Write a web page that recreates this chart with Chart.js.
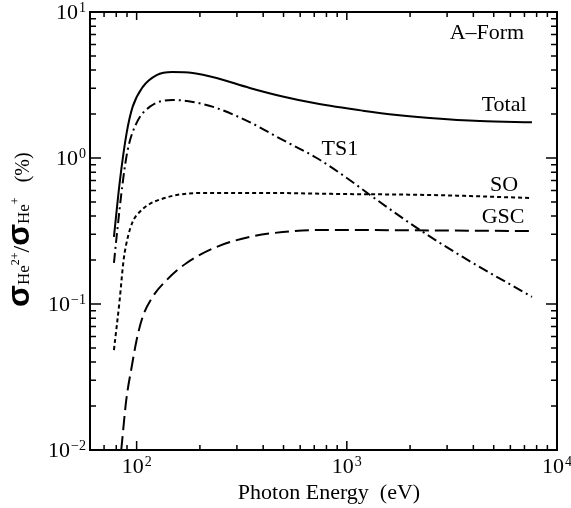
<!DOCTYPE html>
<html>
<head>
<meta charset="utf-8">
<script src="https://cdn.jsdelivr.net/npm/chart.js@4"></script>
<style>
html, body { margin: 0; padding: 0; background: #fff; }
canvas { display: block; }
</style>
</head>
<body>
<canvas id="c" width="571" height="508"></canvas>
<script>
// photon energy (eV) and ratio (%)
var totalX = [78, 83, 89.6, 95.7, 106.8, 124.5, 148, 185, 240, 345, 495, 719, 1190, 1730, 2480, 4300, 7600];
var totalY = [0.288, 0.674, 1.48, 2.24, 3.06, 3.70, 3.88, 3.82, 3.53, 3.02, 2.64, 2.36, 2.11, 1.97, 1.88, 1.79, 1.76];

var ts1X = [78, 80.3, 85.8, 90.6, 100, 115.3, 148, 185, 240, 345, 495, 719, 1000, 1290, 2230, 3560, 7600];
var ts1Y = [0.191, 0.288, 0.674, 1.13, 1.74, 2.24, 2.50, 2.42, 2.20, 1.76, 1.33, 1.0, 0.73, 0.558, 0.321, 0.210, 0.112];

var soX = [78, 83, 86.7, 90.6, 95.7, 103.3, 115.3, 131.5, 155, 200, 416, 927, 2480, 7600];
var soY = [0.0484, 0.106, 0.200, 0.283, 0.365, 0.427, 0.484, 0.524, 0.558, 0.576, 0.576, 0.567, 0.558, 0.532];

var gscX = [84.5, 89.3, 94.7, 100, 106.8, 119.2, 139, 173, 240, 345, 495, 719, 927, 7600];
var gscY = [0.0100, 0.0221, 0.037, 0.0567, 0.0815, 0.112, 0.146, 0.191, 0.246, 0.288, 0.311, 0.321, 0.321, 0.316];

var xTickValues = [100, 1000, 10000];
var xTickExponents = ['2', '3', '4'];
var yTickValues = [0.01, 0.1, 1, 10];
var yTickExponents = ['\u22122', '\u22121', '0', '1'];

var labelTexts = ['A\u2013Form', 'Total', 'TS1', 'SO', 'GSC'];
var labelX = [4640, 5600, 927, 5600, 5540];
var labelY = [7.18, 2.31, 1.15, 0.653, 0.394];

var serif = '"Liberation Serif", "DejaVu Serif", serif';
var sigmaFont = 'bold 32px "Liberation Sans", "DejaVu Sans", sans-serif';

function toPoints(xs, ys) {
	return xs.map(function(x, i) {
		return { x: x, y: ys[i] };
	});
}

function curve(name, xs, ys, dash) {
	return {
		label: name,
		data: toPoints(xs, ys),
		borderColor: '#000',
		borderWidth: 2,
		borderDash: dash,
		pointRadius: 0,
		fill: false,
		cubicInterpolationMode: 'monotone'
	};
}

function minorValues(lo, hi) {
	var out = [];
	for (var d = 1; d < 4; d++) {
		var base = Math.pow(10, d);
		for (var k = 2; k < 10; k++) {
			var v = k * base;
			if (v > lo && v < hi) out.push(v);
		}
	}
	return out;
}

function minorValuesY() {
	var out = [];
	for (var d = -2; d < 1; d++) {
		var base = Math.pow(10, d);
		for (var k = 2; k < 10; k++) out.push(k * base);
	}
	return out;
}

function drawPower(ctx, exp, x, y, align) {
	ctx.font = '22px ' + serif;
	var w10 = ctx.measureText('10').width;
	ctx.font = '14px ' + serif;
	var we = ctx.measureText(exp).width;
	var left = align === 'right' ? x - w10 - we - 1 : x - (w10 + we + 1) / 2;
	ctx.textAlign = 'left';
	ctx.textBaseline = 'middle';
	ctx.font = '22px ' + serif;
	ctx.fillText('10', left, y);
	ctx.textBaseline = 'alphabetic';
	ctx.font = '14px ' + serif;
	ctx.fillText(exp, left + w10 + 1, y - 1);
}

var framePlugin = {
	id: 'frame',
	afterDraw: function(chart) {
		var ctx = chart.ctx, a = chart.chartArea;
		var xs = chart.scales.x, ys = chart.scales.y;
		ctx.save();
		ctx.strokeStyle = '#000';
		ctx.fillStyle = '#000';
		ctx.lineWidth = 2;
		ctx.strokeRect(a.left, a.top, a.right - a.left, a.bottom - a.top);

		ctx.lineWidth = 1.5;
		ctx.beginPath();
		minorValues(60, 10000).forEach(function(v) {
			var p = xs.getPixelForValue(v);
			ctx.moveTo(p, a.bottom); ctx.lineTo(p, a.bottom - 5);
			ctx.moveTo(p, a.top); ctx.lineTo(p, a.top + 5);
		});
		xTickValues.forEach(function(v) {
			var p = xs.getPixelForValue(v);
			ctx.moveTo(p, a.bottom); ctx.lineTo(p, a.bottom - 9);
			ctx.moveTo(p, a.top); ctx.lineTo(p, a.top + 8);
		});
		minorValuesY().forEach(function(v) {
			var p = ys.getPixelForValue(v);
			ctx.moveTo(a.left, p); ctx.lineTo(a.left + 6, p);
			ctx.moveTo(a.right, p); ctx.lineTo(a.right - 6, p);
		});
		yTickValues.forEach(function(v) {
			var p = ys.getPixelForValue(v);
			ctx.moveTo(a.left, p); ctx.lineTo(a.left + 11, p);
			ctx.moveTo(a.right, p); ctx.lineTo(a.right - 11, p);
		});
		ctx.stroke();

		xTickValues.forEach(function(v, i) {
			drawPower(ctx, xTickExponents[i], xs.getPixelForValue(v), a.bottom + 17, 'center');
		});
		yTickValues.forEach(function(v, i) {
			drawPower(ctx, yTickExponents[i], a.left - 4, ys.getPixelForValue(v) + 1, 'right');
		});

		ctx.font = '22px ' + serif;
		ctx.textAlign = 'center';
		ctx.textBaseline = 'middle';
		labelTexts.forEach(function(t, i) {
			ctx.fillText(t, xs.getPixelForValue(labelX[i]), ys.getPixelForValue(labelY[i]));
		});

		ctx.fillText('Photon Energy  (eV)', 329, 493);

		// y title, rotated
		var parts = [
			{ t: '\u03c3', f: sigmaFont, dy: 0 },
			{ t: 'He', f: '17px ' + serif, dy: 0 },
			{ t: '2+', f: '12px ' + serif, dy: -10 },
			{ t: '/', f: '24px ' + serif, dy: 0 },
			{ t: '\u03c3', f: sigmaFont, dy: 0 },
			{ t: 'He', f: '17px ' + serif, dy: 0 },
			{ t: '+', f: '12px ' + serif, dy: -10 },
			{ t: '   (%)', f: '20px ' + serif, dy: 0 }
		];
		ctx.translate(29, 307);
		ctx.rotate(-Math.PI / 2);
		ctx.textAlign = 'left';
		ctx.textBaseline = 'alphabetic';
		var x = 0;
		parts.forEach(function(p) {
			ctx.font = p.f;
			ctx.fillText(p.t, x, p.dy);
			x += ctx.measureText(p.t).width;
		});
		ctx.restore();
	}
};

var chart = new Chart(document.getElementById('c'), {
	type: 'line',
	data: {
		datasets: [
			curve('Total', totalX, totalY, []),
			curve('TS1', ts1X, ts1Y, [10, 4, 2, 4]),
			curve('SO', soX, soY, [4, 3]),
			curve('GSC', gscX, gscY, [14, 6])
		]
	},
	options: {
		responsive: false,
		animation: false,
		layout: { padding: { left: 0, right: 14, top: 12, bottom: 0 } },
		plugins: {
			legend: { display: false },
			tooltip: { enabled: false }
		},
		scales: {
			x: {
				type: 'logarithmic',
				min: 60,
				max: 10000,
				border: { display: false },
				grid: { display: false },
				ticks: { display: false },
				afterFit: function(s) { s.height = 58; }
			},
			y: {
				type: 'logarithmic',
				min: 0.01,
				max: 10,
				border: { display: false },
				grid: { display: false },
				ticks: { display: false },
				afterFit: function(s) { s.width = 90; }
			}
		}
	},
	plugins: [framePlugin]
});
</script>
</body>
</html>
